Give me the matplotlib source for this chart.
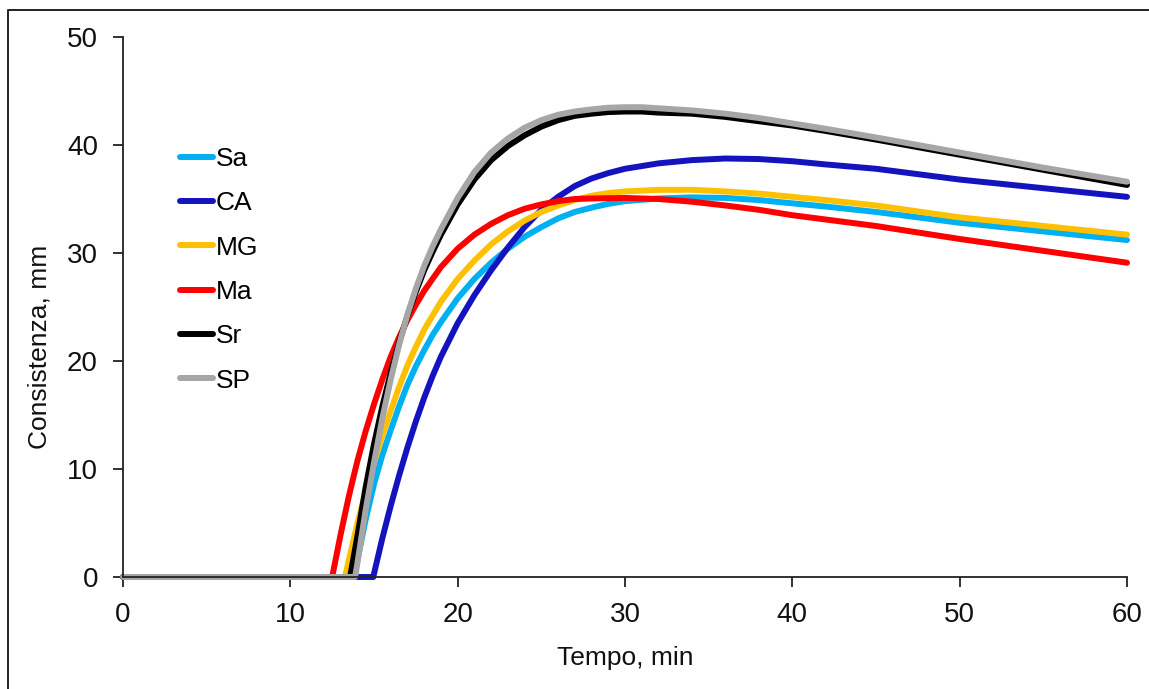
import matplotlib
matplotlib.use("Agg")
import matplotlib.pyplot as plt
from matplotlib.lines import Line2D
from matplotlib import font_manager

names = {f.name for f in font_manager.fontManager.ttflist}
fam = [n for n in ["Liberation Sans Narrow", "Liberation Sans", "DejaVu Sans"] if n in names]
plt.rcParams['font.family'] = fam

# ---- data ----
series_names = ["Sa", "CA", "MG", "Ma", "Sr", "SP"]
colors = ["#00B0F0", "#1414BE", "#FFC000", "#FF0000", "#000000", "#A6A6A6"]

t_Sa = [0, 13.8, 14, 14.5, 15, 15.5, 16, 16.5, 17, 17.5, 18, 18.5, 19, 20, 21, 22, 23, 24, 25, 26, 27, 28, 29, 30, 32, 34, 36, 38, 40, 42, 45, 50, 55, 60]
v_Sa = [0, 0, 1.5, 5.3, 8.6, 11.3, 13.6, 15.8, 17.8, 19.5, 21.0, 22.4, 23.6, 25.8, 27.6, 29.1, 30.4, 31.5, 32.4, 33.2, 33.8, 34.2, 34.55, 34.8, 35.05, 35.15, 35.1, 34.9, 34.6, 34.3, 33.8, 32.8, 32.0, 31.2]

t_CA = [0, 14.96, 15, 15.5, 16, 16.5, 17, 17.5, 18, 18.5, 19, 20, 21, 22, 23, 24, 25, 26, 27, 28, 29, 30, 32, 34, 36, 38, 40, 42, 45, 50, 55, 60]
v_CA = [0, 0, 0.3, 3.6, 6.6, 9.4, 12.0, 14.4, 16.6, 18.6, 20.4, 23.5, 26.1, 28.4, 30.5, 32.4, 34.0, 35.2, 36.2, 36.9, 37.4, 37.8, 38.3, 38.6, 38.75, 38.7, 38.5, 38.2, 37.8, 36.8, 36.0, 35.2]

t_MG = [0, 13.27, 13.5, 14, 14.5, 15, 15.5, 16, 16.5, 17, 17.5, 18, 19, 20, 21, 22, 23, 24, 25, 26, 27, 28, 29, 30, 32, 34, 36, 38, 40, 42, 45, 50, 55, 60]
v_MG = [0, 0, 1.6, 4.9, 7.9, 10.6, 13.1, 15.4, 17.6, 19.6, 21.3, 22.9, 25.5, 27.6, 29.3, 30.8, 32.0, 33.0, 33.8, 34.4, 34.9, 35.3, 35.55, 35.7, 35.85, 35.85, 35.7, 35.5, 35.2, 34.9, 34.4, 33.3, 32.5, 31.7]

t_Ma = [0, 12.5, 13, 13.5, 14, 14.5, 15, 15.5, 16, 16.5, 17, 17.5, 18, 19, 20, 21, 22, 23, 24, 25, 26, 27, 28, 30, 32, 34, 36, 38, 40, 42, 45, 50, 55, 60]
v_Ma = [0, 0, 3.9, 7.5, 10.7, 13.5, 16.0, 18.3, 20.4, 22.2, 23.8, 25.2, 26.5, 28.7, 30.4, 31.7, 32.7, 33.5, 34.1, 34.5, 34.8, 35.0, 35.05, 35.1, 35.0, 34.75, 34.4, 34.0, 33.5, 33.1, 32.5, 31.3, 30.2, 29.1]

t_Sr = [0, 13.57, 14, 14.5, 15, 15.5, 16, 16.5, 17, 17.5, 18, 18.5, 19, 20, 21, 22, 23, 24, 25, 26, 27, 28, 29, 30, 31, 32, 34, 36, 38, 40, 42, 45, 50, 55, 60]
v_Sr = [0, 0, 3.7, 8.3, 12.3, 15.8, 18.9, 21.7, 24.2, 26.4, 28.4, 30.1, 31.7, 34.5, 36.8, 38.6, 39.9, 40.9, 41.7, 42.3, 42.7, 42.9, 43.05, 43.1, 43.1, 43.0, 42.9, 42.6, 42.2, 41.8, 41.3, 40.5, 39.1, 37.7, 36.3]

t_SP = [0, 13.87, 14, 14.5, 15, 15.5, 16, 16.5, 17, 17.5, 18, 18.5, 19, 20, 21, 22, 23, 24, 25, 26, 27, 28, 29, 30, 31, 32, 34, 36, 38, 40, 42, 45, 50, 55, 60]
v_SP = [0, 0, 1.2, 6.2, 10.6, 14.7, 18.3, 21.5, 24.3, 26.7, 28.8, 30.6, 32.2, 35.1, 37.5, 39.3, 40.6, 41.6, 42.3, 42.8, 43.1, 43.3, 43.45, 43.5, 43.5, 43.4, 43.2, 42.9, 42.5, 42.0, 41.5, 40.7, 39.3, 37.9, 36.6]

x_ticks = [0, 10, 20, 30, 40, 50, 60]
y_ticks = [0, 10, 20, 30, 40, 50]
x_label = "Tempo, min"
y_label = "Consistenza, mm"

# ---- plot ----
W, H = 1149, 689
fig = plt.figure(figsize=(W / 100, H / 100), dpi=100)
ax = fig.add_axes([123 / W, 1 - 577 / H, 1004 / W, 540 / H])

data = [(t_Sa, v_Sa), (t_CA, v_CA), (t_MG, v_MG), (t_Ma, v_Ma), (t_Sr, v_Sr), (t_SP, v_SP)]
handles = []
for (t, v), name, c in zip(data, series_names, colors):
    ln, = ax.plot(t, v, color=c, lw=4.3, solid_capstyle='round', solid_joinstyle='round',
                  clip_on=False, label=name)
    handles.append(ln)

ax.set_xlim(0, 60)
ax.set_ylim(0, 50)
ax.set_xticks(x_ticks)
ax.set_yticks(y_ticks)
for s in ["top", "right"]:
    ax.spines[s].set_visible(False)
for s in ["left", "bottom"]:
    ax.spines[s].set_linewidth(1.3)
    ax.spines[s].set_color("#222222")
ax.tick_params(axis='both', direction='out', length=7, width=1.3, color="#222222",
               labelsize=20, labelcolor="#111111")
ax.tick_params(axis='x', pad=11)
ax.tick_params(axis='y', pad=11)

ax.set_xlabel(x_label, fontsize=19, color="#111111")
ax.set_ylabel(y_label, fontsize=19, color="#111111")
ax.xaxis.set_label_coords(0.5, -0.128)
ax.yaxis.set_label_coords(-0.071, 0.426)

leg = ax.legend(handles=handles, loc='upper left', bbox_to_anchor=(0.046, 0.816),
                frameon=False, fontsize=19, handlelength=1.25, handletextpad=0.12,
                labelspacing=0.77, borderaxespad=0)

# figure frame (top and left visible)
fig.add_artist(Line2D([8 / W, 8 / W, 1.0], [0.0, 1 - 10 / H, 1 - 10 / H],
                      transform=fig.transFigure, color="#222222", lw=1.4))

fig.savefig("out.png", dpi=100, facecolor="white")
